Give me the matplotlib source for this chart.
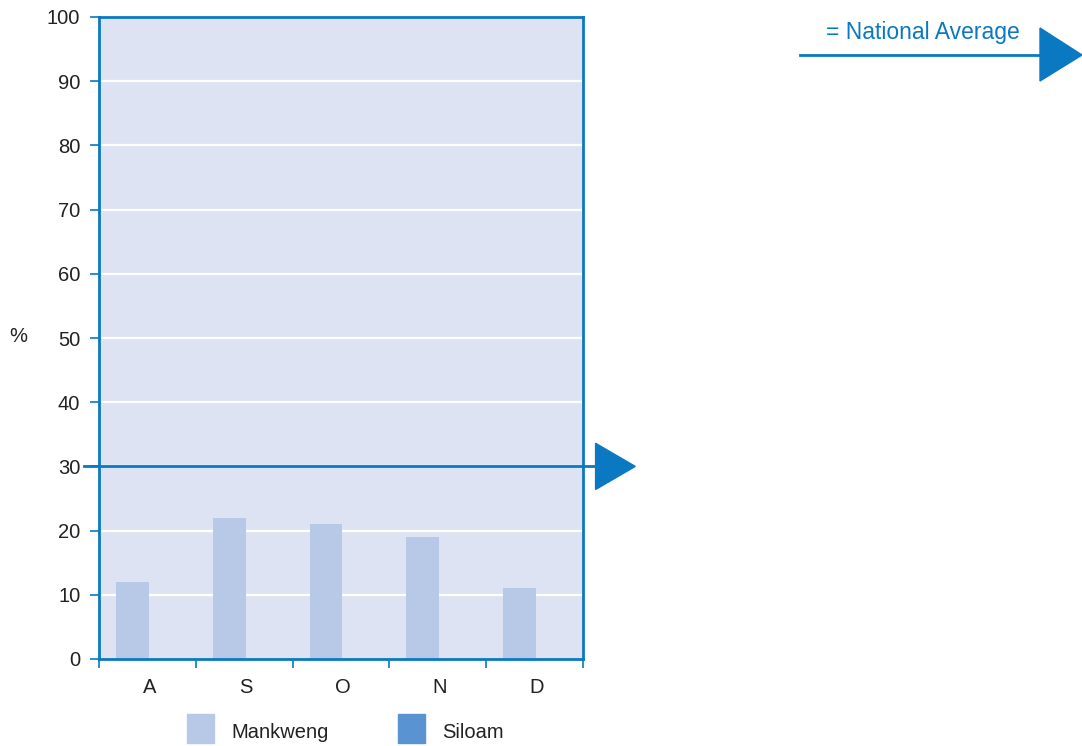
import matplotlib
matplotlib.use('Agg')
import matplotlib.pyplot as plt
from matplotlib.patches import Rectangle, Polygon
import numpy as np

plt.rcParams['font.family'] = ['Liberation Sans', 'DejaVu Sans']

# 数据
months = ['A', 'S', 'O', 'N', 'D']
mankweng = [12, 22, 21, 19, 11]
series_names = ['Mankweng', 'Siloam']
series_colors = ['#b8c9e8', '#5a93d2']
national_average = 30
yticks = list(range(0, 101, 10))

blue = '#0a79c1'
txt = '#222222'

fig = plt.figure(figsize=(10.82, 7.46), dpi=100)
ax = fig.add_axes([99 / 1082, 87 / 746, 484 / 1082, 642 / 746])
ax.set_facecolor('#dde3f2')

x = np.arange(len(months))
ax.bar(x - 0.155, mankweng, width=0.34, color=series_colors[0], zorder=2)

ax.set_xlim(-0.5, len(months) - 0.5)
ax.set_ylim(0, 100)
ax.set_yticks(yticks)
ax.set_yticklabels([str(v) for v in yticks], fontsize=14.5, color=txt)
ax.set_xticks(x + 0.02)
ax.set_xticklabels(months, fontsize=14.5, color=txt)
ax.tick_params(axis='x', length=0, pad=13.5)
ax.set_xticks(np.arange(len(months) + 1) - 0.5, minor=True)
ax.tick_params(axis='x', which='minor', length=6.5, width=1.2, color=blue, direction='out')
ax.tick_params(axis='y', length=6.5, width=1.2, color=blue, pad=7)

for v in yticks[1:-1]:
    ax.axhline(v, color='white', lw=1.6, zorder=1)

for s in ax.spines.values():
    s.set_color(blue)
    s.set_linewidth(2)
ax.spines['bottom'].set_zorder(3)

fig.text(18 / 1082, 1 - 336 / 746, '%', fontsize=14.5, color=txt, ha='center', va='center')

# 全国平均线 + 箭头
ax.plot([-0.655, 4.7], [national_average, national_average], color=blue, lw=2,
        clip_on=False, zorder=4)
head = Polygon([[4.63, national_average + 3.6], [4.63, national_average - 3.6],
                [5.04, national_average]], closed=True, color=blue, clip_on=False, zorder=4)
ax.add_patch(head)

# 右上角说明
fig.add_artist(plt.Line2D([800 / 1082, 1050 / 1082], [1 - 55 / 746, 1 - 55 / 746],
                          color=blue, lw=2, transform=fig.transFigure))
fig.add_artist(Polygon([[1040 / 1082, 1 - 28 / 746], [1040 / 1082, 1 - 81 / 746],
                        [1082 / 1082, 1 - 55 / 746]], closed=True, color=blue,
                       transform=fig.transFigure))
fig.text(923 / 1082, 1 - 33 / 746, '= National Average', fontsize=16.5, color=blue,
         ha='center', va='center')

# 图例
legend_x = [187, 398]
for lx, name, col in zip(legend_x, series_names, series_colors):
    fig.add_artist(Rectangle((lx / 1082, 1 - 743 / 746), 27 / 1082, 29 / 746,
                             color=col, transform=fig.transFigure))
    fig.text((lx + 44) / 1082, 1 - 732 / 746, name, fontsize=14.5, color=txt,
             ha='left', va='center')

fig.savefig('out.png', dpi=100)
